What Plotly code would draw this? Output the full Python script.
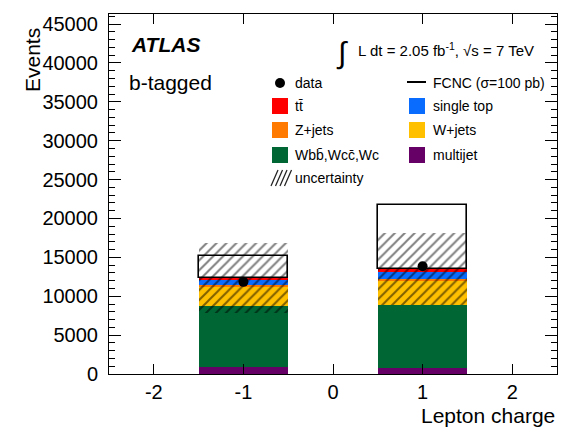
import numpy as np
import plotly.graph_objects as go

# ---- data: events per lepton-charge bin (b-tagged selection) ----
charge = [-1, 1]
multijet = [850, 820]
wbb_wcc_wc = [7850, 8110]
w_jets = [2580, 3030]
z_jets = [220, 300]
single_top = [550, 900]
ttbar = [300, 340]
fcnc = [2850, 8300]
data = [11850, 13850]
uncertainty = [4450, 4600]

x_ticks = [-2, -1, 0, 1, 2]

# ---- styling ----
FONT = "Liberation Sans, Arial, Helvetica, sans-serif"
W, H = 571, 434
L, R, T, B = 109, 14, 14, 60
PW, PH = W - L - R, H - T - B

C_MULTI = "#660066"
C_WBB = "#006633"
C_WJ = "#ffc000"
C_ZJ = "#ff7a00"
C_ST = "#0a6cff"
C_TT = "#ff0000"


def px(xp):
    return (xp - L) / PW


def py(yp):
    return (H - B - yp) / PH


stack = [
    ("multijet", multijet, C_MULTI),
    ("Wbb,Wcc,Wc", wbb_wcc_wc, C_WBB),
    ("W+jets", w_jets, C_WJ),
    ("Z+jets", z_jets, C_ZJ),
    ("single top", single_top, C_ST),
    ("ttbar", ttbar, C_TT),
]

fig = go.Figure()

base = np.zeros(len(charge))
for name, vals, col in stack:
    vals = np.asarray(vals, dtype=float)
    fig.add_trace(go.Bar(
        x=charge, y=vals, base=base, width=1.0, name=name,
        marker=dict(color=col, line=dict(width=0)), showlegend=False,
    ))
    base = base + vals

bkg_total = base.copy()

# FCNC signal stacked on top, open box
fig.add_trace(go.Bar(
    x=charge, y=fcnc, base=bkg_total, width=1.0, name="FCNC",
    marker=dict(color="white", line=dict(color="black", width=1.6)),
    showlegend=False,
))

# hatched uncertainty band around the background total
unc = np.asarray(uncertainty, dtype=float)
fig.add_trace(go.Bar(
    x=charge, y=2 * unc, base=bkg_total - unc, width=1.0, name="uncertainty",
    marker=dict(color="rgba(0,0,0,0)", line=dict(width=0),
                pattern=dict(shape="/", fgcolor="black", bgcolor="rgba(0,0,0,0)",
                             size=7, solidity=0.28, fillmode="overlay")),
    showlegend=False,
))

# data points
fig.add_trace(go.Scatter(
    x=charge, y=data, mode="markers", name="data",
    marker=dict(color="black", size=10, symbol="circle"), showlegend=False,
))

shapes = []
annotations = []

# ---- hand-built two-column legend ----
ROWS = [83, 106, 130, 155, 178]
LX0, LX1, LTX = 272, 288, 293
RX0, RX1, RTX = 409, 425, 431
LEG_SIZE = 14


def box(x0, x1, yc, col):
    shapes.append(dict(type="rect", xref="paper", yref="paper",
                       x0=px(x0), x1=px(x1), y0=py(yc + 8), y1=py(yc - 8),
                       fillcolor=col, line=dict(width=0), layer="above"))


def label(xl, yc, text):
    annotations.append(dict(xref="paper", yref="paper", x=px(xl), y=py(yc),
                            xanchor="left", yanchor="middle", showarrow=False,
                            text=text, font=dict(family=FONT, size=LEG_SIZE, color="black")))


# data marker
shapes.append(dict(type="circle", xref="paper", yref="paper",
                   x0=px(275), x1=px(285), y0=py(88), y1=py(78),
                   fillcolor="black", line=dict(width=0), layer="above"))
label(LTX, ROWS[0], "data")
# FCNC line
shapes.append(dict(type="line", xref="paper", yref="paper",
                   x0=px(407), x1=px(426), y0=py(82), y1=py(82),
                   line=dict(color="black", width=2), layer="above"))
label(RTX, ROWS[0], "FCNC (σ=100 pb)")

box(LX0, LX1, ROWS[1], C_TT)
label(LTX, ROWS[1], "tt̄")
box(RX0, RX1, ROWS[1], C_ST)
label(RTX, ROWS[1], "single top")

box(LX0, LX1, ROWS[2], C_ZJ)
label(LTX, ROWS[2], "Z+jets")
box(RX0, RX1, ROWS[2], C_WJ)
label(RTX, ROWS[2], "W+jets")

box(LX0, LX1, ROWS[3], C_WBB)
label(LTX, ROWS[3], "Wbb̄,Wcc̄,Wc")
box(RX0, RX1, ROWS[3], C_MULTI)
label(RTX, ROWS[3], "multijet")

# hatched swatch for the uncertainty entry
yc = ROWS[4]
for k in range(4):
    xs = LX0 + 1 + k * 4.5
    shapes.append(dict(type="line", xref="paper", yref="paper",
                       x0=px(xs - 2), y0=py(yc + 8), x1=px(xs + 5), y1=py(yc - 8),
                       line=dict(color="#222222", width=1.2), layer="above"))
label(LTX, ROWS[4], "uncertainty")

# ---- labels ----
annotations += [
    dict(xref="paper", yref="paper", x=px(129), y=py(44), xanchor="left", yanchor="middle",
         showarrow=False, text="<b><i>ATLAS</i></b>",
         font=dict(family=FONT, size=21, color="black")),
    dict(xref="paper", yref="paper", x=px(127), y=py(82), xanchor="left", yanchor="middle",
         showarrow=False, text="b-tagged", font=dict(family=FONT, size=21, color="black")),
    dict(xref="paper", yref="paper", x=px(342), y=py(53), xanchor="center", yanchor="middle",
         showarrow=False, text="∫", font=dict(family=FONT, size=30, color="black")),
    dict(xref="paper", yref="paper", x=px(356), y=py(50), xanchor="left", yanchor="middle",
         showarrow=False, text="L dt = 2.05 fb<sup>-1</sup>, √s = 7 TeV",
         font=dict(family=FONT, size=15, color="black")),
    # axis titles
    dict(xref="paper", yref="paper", x=1.0, y=py(415), xanchor="right", yanchor="middle",
         showarrow=False, text="Lepton charge", font=dict(family=FONT, size=21, color="black")),
    dict(xref="paper", yref="paper", x=px(32), y=py(60), xanchor="center", yanchor="middle",
         showarrow=False, text="Events", textangle=-90,
         font=dict(family=FONT, size=21, color="black")),
]

fig.update_layout(
    width=W, height=H,
    margin=dict(l=L, r=R, t=T, b=B),
    paper_bgcolor="white", plot_bgcolor="white",
    barmode="overlay", bargap=0,
    showlegend=False,
    shapes=shapes, annotations=annotations,
    font=dict(family=FONT, color="black"),
)

fig.update_xaxes(
    range=[-2.5, 2.5], tickmode="array", tickvals=x_ticks,
    ticktext=[str(v) for v in x_ticks],
    ticks="inside", ticklen=10, tickwidth=1, tickcolor="black",
    showline=True, linecolor="black", linewidth=1, mirror="ticks",
    showgrid=False, zeroline=False,
    tickfont=dict(family=FONT, size=20, color="black"),
    ticklabelstandoff=0,
)
fig.update_yaxes(
    range=[0, 46300], tick0=0, dtick=5000, tickformat="d",
    ticks="inside", ticklen=12, tickwidth=1, tickcolor="black",
    minor=dict(dtick=1000, ticks="inside", ticklen=6, tickcolor="black", showgrid=False),
    showline=True, linecolor="black", linewidth=1, mirror="ticks",
    showgrid=False, zeroline=False,
    tickfont=dict(family=FONT, size=20, color="black"),
    ticklabelstandoff=6,
)

fig.write_html("out.html")
